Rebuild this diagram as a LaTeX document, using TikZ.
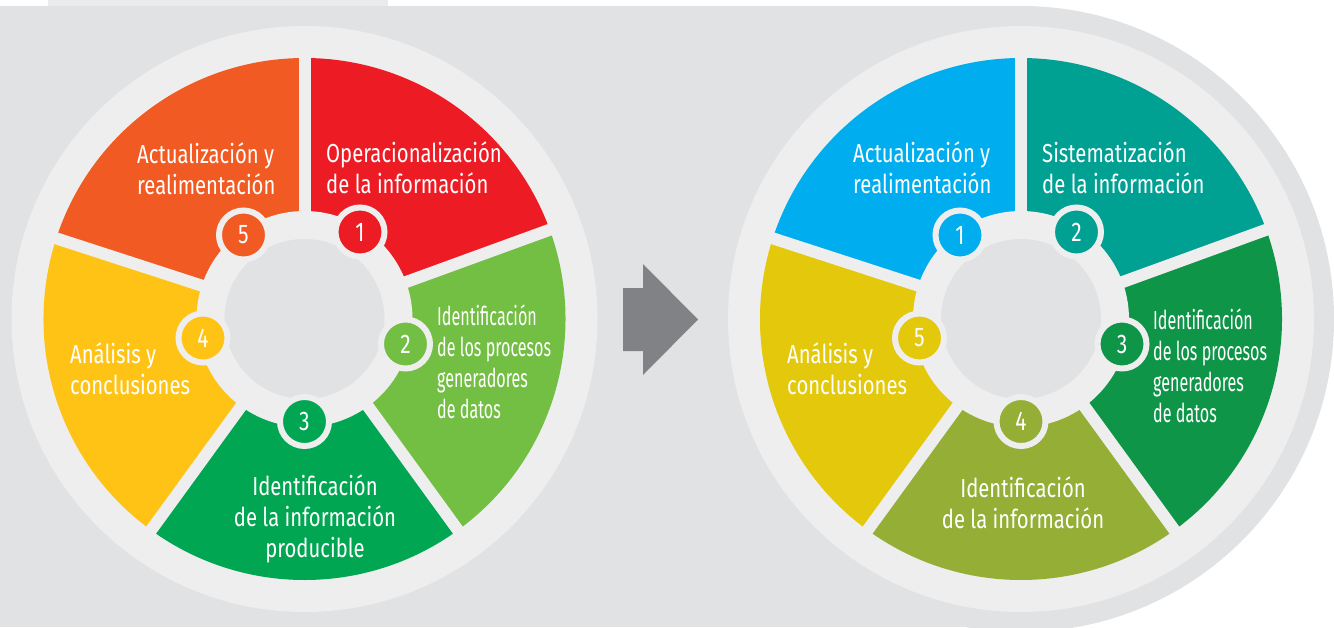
\documentclass[tikz,border=0pt]{standalone}
\usepackage{fontspec}
\setmainfont{Fira Sans}[FakeStretch=0.78]
\newfontfamily\narrowfont{Fira Sans}[FakeStretch=0.62]
\usetikzlibrary{calc}
\definecolor{bggray}{HTML}{E1E2E4}
\definecolor{tabgray}{HTML}{EBEBED}
\definecolor{ringgray}{HTML}{EEEEEE}
\definecolor{arrowgray}{HTML}{808285}
% left wheel
\definecolor{segred}{HTML}{ED1C24}
\definecolor{segorange}{HTML}{F15A22}
\definecolor{seglime}{HTML}{72BF44}
\definecolor{seggreen}{HTML}{00A651}
\definecolor{segyellow}{HTML}{FFC316}
% right wheel
\definecolor{segcyan}{HTML}{00AEEF}
\definecolor{segteal}{HTML}{00A193}
\definecolor{segdgreen}{HTML}{0F9548}
\definecolor{segolive}{HTML}{94AE36}
\definecolor{segmustard}{HTML}{E4C80B}

\begin{document}
\begin{tikzpicture}[x=1pt,y=1pt,
  badge/.style={circle,draw=ringgray,line width=6pt,minimum size=49pt,inner sep=0pt,
    text=white,font=\fontsize{27}{27}\selectfont},
  lbl/.style={text=white,align=left,anchor=west,inner sep=0pt,
    font=\fontsize{26}{31}\selectfont},
  lblc/.style={lbl,align=center,anchor=center},
  lbln/.style={lbl,font=\narrowfont\fontsize{26}{31}\selectfont}]
\useasboundingbox (0,0) rectangle (1334,-627);
% Background
\fill[white] (0,0) rectangle (1334,-627);
\fill[tabgray] (48,0) rectangle (388,-6);
\fill[bggray] (0,-6) rectangle (1021,-627);
\fill[bggray] (1021,-319) circle (313);
% Wheel centres
\coordinate (L) at (304.5,-319);
\coordinate (R) at (1021,-319);
\fill[ringgray] (L) circle (293);
\fill[ringgray] (R) circle (293);
% Left wheel segments
\fill[segred] (L) -- ++(20:261) arc[start angle=20,end angle=90,radius=261] -- cycle;
\fill[segorange] (L) -- ++(90:261) arc[start angle=90,end angle=162,radius=261] -- cycle;
\fill[segyellow] (L) -- ++(162:261) arc[start angle=162,end angle=234,radius=261] -- cycle;
\fill[seggreen] (L) -- ++(234:261) arc[start angle=234,end angle=306,radius=261] -- cycle;
\fill[seglime] (L) -- ++(306:261) arc[start angle=306,end angle=380,radius=261] -- cycle;
% Right wheel segments
\fill[segteal] (R) -- ++(20:261) arc[start angle=20,end angle=90,radius=261] -- cycle;
\fill[segcyan] (R) -- ++(90:261) arc[start angle=90,end angle=162,radius=261] -- cycle;
\fill[segmustard] (R) -- ++(162:261) arc[start angle=162,end angle=234,radius=261] -- cycle;
\fill[segolive] (R) -- ++(234:261) arc[start angle=234,end angle=306,radius=261] -- cycle;
\fill[segdgreen] (R) -- ++(306:261) arc[start angle=306,end angle=380,radius=261] -- cycle;
% Gaps between segments
\foreach \a in {20,90,162,234,306} {
  \draw[ringgray,line width=12pt] (L) -- ++(\a:270);
  \draw[ringgray,line width=12pt] (R) -- ++(\a:270);
}
% Hubs
\fill[ringgray] (L) circle (108);
\fill[bggray] (L) circle (80);
\fill[ringgray] (R) circle (108);
\fill[bggray] (R) circle (80);
% Arrow between wheels
\fill[arrowgray] (623,-288) -- (643,-288) -- (643,-264) -- (698,-319.5)
  -- (643,-375) -- (643,-351) -- (623,-351) -- cycle;
% Left badges
\node[badge,fill=segred] (l1) at ($(L)+(55.5,87)$) {1};
\node[badge,fill=seglime] (l2) at ($(L)+(101,-25)$) {2};
\node[badge,fill=seggreen] (l3) at ($(L)+(0,-102.5)$) {3};
\node[badge,fill=segyellow] (l4) at ($(L)+(-101.5,-19)$) {4};
\node[badge,fill=segorange] (l5) at ($(L)+(-61,84)$) {5};
% Right badges
\node[badge,fill=segcyan] (r1) at ($(R)+(-61,84)$) {1};
\node[badge,fill=segteal] (r2) at ($(R)+(55.5,87)$) {2};
\node[badge,fill=segdgreen] (r3) at ($(R)+(101,-25)$) {3};
\node[badge,fill=segolive] (r4) at ($(R)+(0,-102.5)$) {4};
\node[badge,fill=segmustard] (r5) at ($(R)+(-101.5,-19)$) {5};
% Left labels
\node[lbl] (lt1) at (326,-167.5) {Operacionalización\\de la información};
\node[lbln] (lt2) at (437,-362) {Identificación\\de los procesos\\generadores\\de datos};
\node[lblc] (lt3) at (315,-519) {Identificación\\de la información\\producible};
\node[lbl] (lt4) at (70,-369) {Análisis y\\conclusiones};
\node[lbl] (lt5) at (137,-169) {Actualización y\\realimentación};
% Right labels
\node[lbl] (rt1) at (853,-168) {Actualización y\\realimentación};
\node[lbl] (rt2) at (1042,-167.5) {Sistematización\\de la información};
\node[lbln] (rt3) at (1153,-366) {Identificación\\de los procesos\\generadores\\de datos};
\node[lblc] (rt4) at (1023,-503) {Identificación\\de la información};
\node[lbl] (rt5) at (787,-369) {Análisis y\\conclusiones};
\end{tikzpicture}
\end{document}
